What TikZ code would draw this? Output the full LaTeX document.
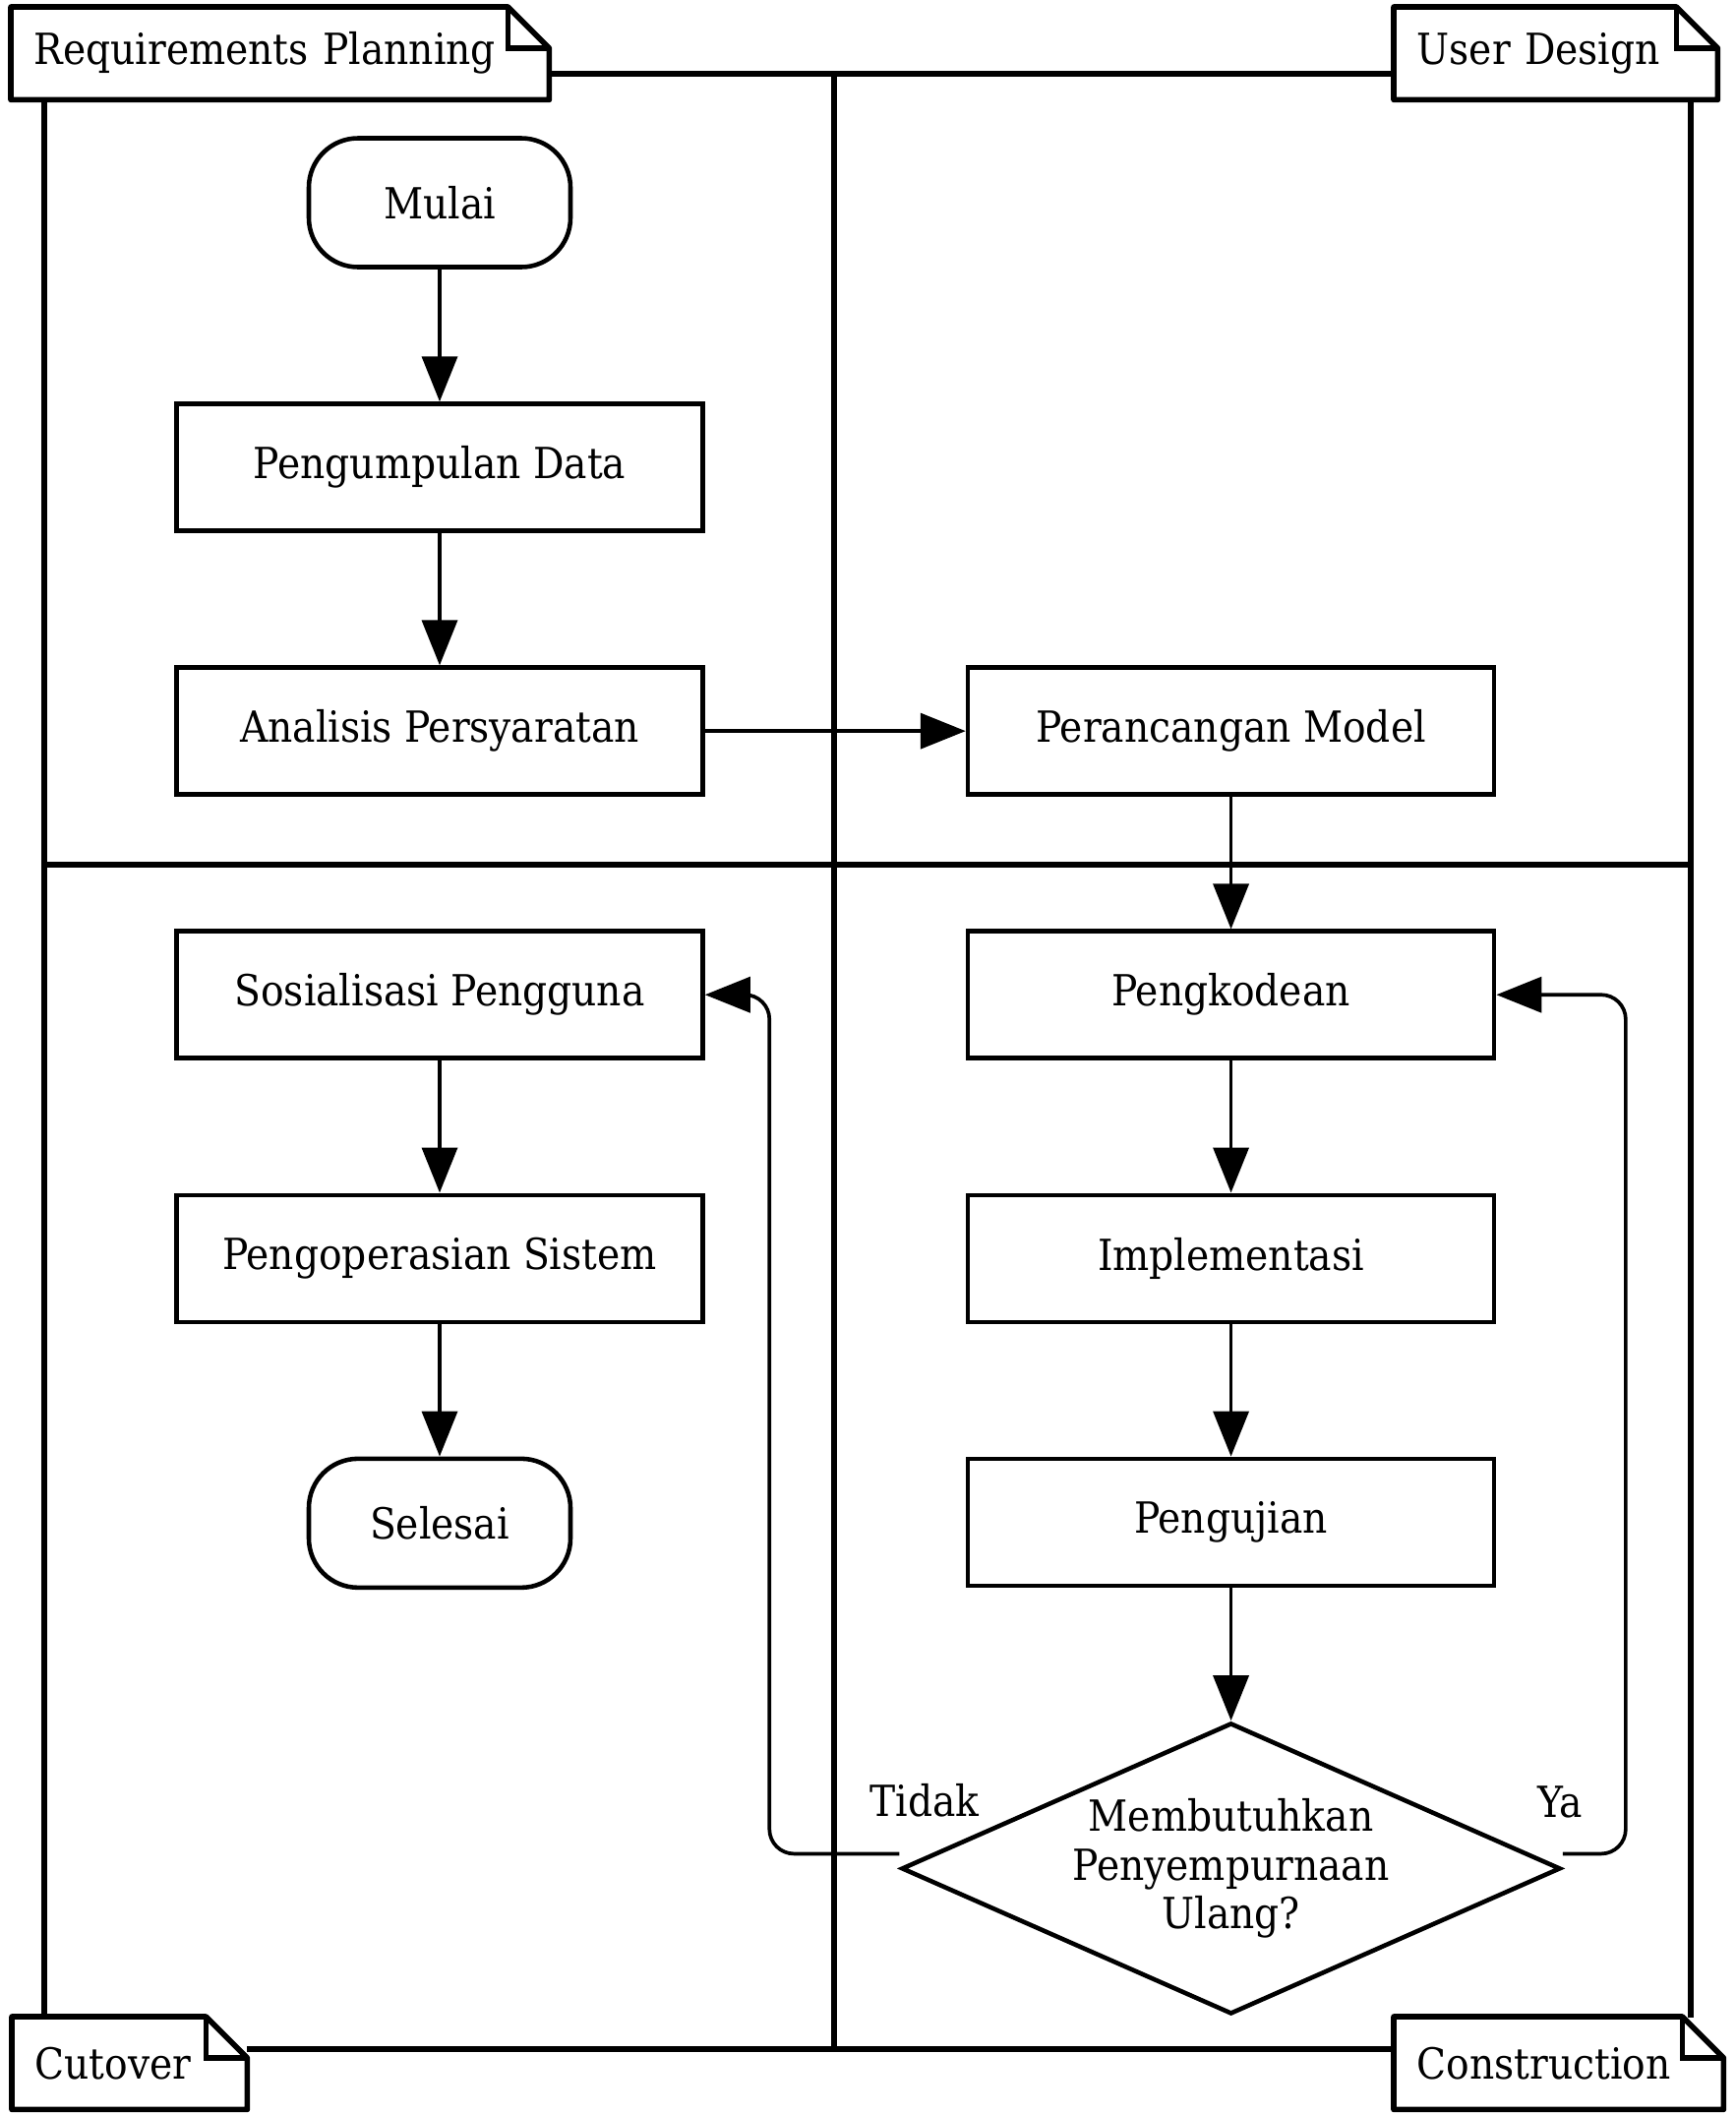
\documentclass[tikz,border=0pt]{standalone}
\usepackage{fontspec}
\setmainfont{DejaVu Serif Condensed}
\usetikzlibrary{positioning}
\usetikzlibrary{shapes.geometric}
\usetikzlibrary{arrows.meta}
\tikzset{every node/.style={font=\fontsize{12.4}{14}\selectfont},}
\tikzset{process node/.style={rectangle,draw,line width=1.3pt,minimum width=5.35cm,minimum height=1.29cm,inner sep=0pt},}
\tikzset{terminal node/.style={rectangle,rounded corners=0.5cm,draw,line width=1.3pt,minimum width=2.66cm,minimum height=1.31cm,inner sep=0pt},}
\tikzset{decision node/.style={diamond,draw,line width=1.3pt,minimum width=6.70cm,minimum height=2.96cm,aspect=2.25,inner sep=0pt,align=center},}
\tikzset{lane tag/.style={rectangle,fill=white,minimum height=0.93cm,inner xsep=0.23cm,inner ysep=0pt,text width=#1,align=left,anchor=north west},}
\tikzset{lane line/.style={line width=1.6pt},}
\tikzset{flow/.style={line width=1.05pt,-{Triangle[length=0.46cm,width=0.36cm]}},}
\newcommand{\tagoutline}[1]{%
  \draw[lane line,line join=round] (#1.south west) -- (#1.north west) -- ([xshift=-0.42cm]#1.north east) -- ([yshift=-0.42cm]#1.north east) -- (#1.south east) -- cycle;
  \draw[lane line] ([xshift=-0.42cm]#1.north east) |- ([yshift=-0.42cm]#1.north east);}
\begin{document}
\begin{tikzpicture}
    \useasboundingbox[fill=white] (0,0) rectangle (17.65,-21.5);
    % swimlanes
    \draw[lane line] (0.45,-0.75) rectangle (17.19,-20.83);
    \draw[lane line] (8.48,-0.75) -- (8.48,-20.83);
    \draw[lane line] (0.45,-8.79) -- (17.19,-8.79);

    \node[lane tag=5.00cm] (rp) at (0.11,-0.07) {Requirements Planning};
    \tagoutline{rp}
    \node[lane tag=2.82cm] (ud) at (14.17,-0.07) {User Design};
    \tagoutline{ud}
    \node[lane tag=1.92cm] (co) at (0.12,-20.50) {Cutover};
    \tagoutline{co}
    \node[lane tag=2.88cm] (cn) at (14.17,-20.50) {Construction};
    \tagoutline{cn}

    % flow
    \node[terminal node] (mulai) at (4.47,-2.06) {Mulai};
    \node[process node] (data) [below = 1.345cm of mulai] {Pengumpulan Data};
    \node[process node] (analisis) [below = 1.345cm of data] {Analisis Persyaratan};
    \node[process node] (model) [right = 2.65cm of analisis] {Perancangan Model};
    \node[process node] (kode) [below = 1.345cm of model] {Pengkodean};
    \node[process node] (impl) [below = 1.345cm of kode] {Implementasi};
    \node[process node] (uji) [below = 1.345cm of impl] {Pengujian};
    \node[decision node] (ulang) [below = 1.35cm of uji] {Membutuhkan\\Penyempurnaan\\Ulang?};
    \node[process node] (sosial) [below = 1.345cm of analisis] {Sosialisasi Pengguna};
    \node[process node] (operasi) [below = 1.345cm of sosial] {Pengoperasian Sistem};
    \node[terminal node] (selesai) [below = 1.345cm of operasi] {Selesai};

    \node (tidak) at (9.40,-18.30) {Tidak};
    \node (ya) at (15.86,-18.32) {Ya};

    \draw[flow] (mulai) -- (data);
    \draw[flow] (data) -- (analisis);
    \draw[flow] (analisis) -- (model);
    \draw[flow] (model) -- (kode);
    \draw[flow] (kode) -- (impl);
    \draw[flow] (impl) -- (uji);
    \draw[flow] (uji) -- (ulang);
    \draw[flow] (sosial) -- (operasi);
    \draw[flow] (operasi) -- (selesai);
    \draw[flow,rounded corners=0.25cm] ([yshift=0.15cm]ulang.west) -- ++(-1.32cm,0) |- (sosial.east);
    \draw[flow,rounded corners=0.25cm] ([yshift=0.15cm]ulang.east) -- ++(0.64cm,0) |- (kode.east);
  \end{tikzpicture}
\end{document}
